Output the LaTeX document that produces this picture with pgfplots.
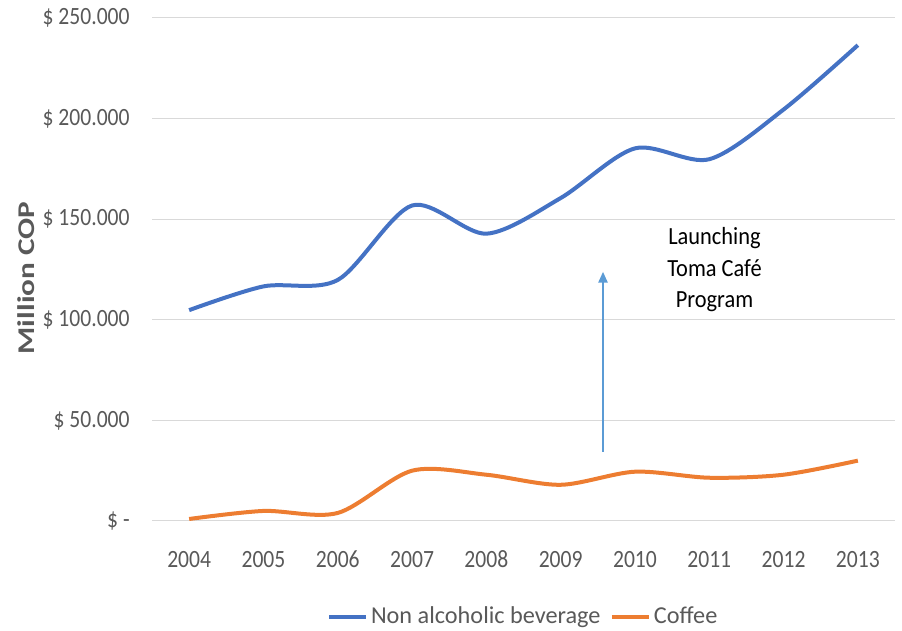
\documentclass[border=0pt]{standalone}
\usepackage{fontspec}
\setmainfont{Carlito}
\usepackage{pgfplots}
\pgfplotsset{compat=1.18}
\usetikzlibrary{arrows.meta}
\definecolor{cblue}{HTML}{4472C4}
\definecolor{corange}{HTML}{ED7D31}
\definecolor{ctext}{HTML}{595959}
\definecolor{cgrid}{HTML}{D9D9D9}
\definecolor{carrow}{HTML}{5B9BD5}
\begin{document}
\begin{tikzpicture}
\useasboundingbox (0,0) rectangle (676.5pt,473.25pt);
\begin{axis}[
  at={(114pt,82.5pt)}, anchor=south west,
  scale only axis, width=557.25pt, height=377.25pt,
  xmin=2003.5, xmax=2013.5, ymin=0, ymax=250000,
  scaled y ticks=false,
  axis line style={draw=none},
  major tick length=0pt,
  xtick={2004,2005,2006,2007,2008,2009,2010,2011,2012,2013},
  xticklabels={2004,2005,2006,2007,2008,2009,2010,2011,2012,2013},
  ytick={0,50000,100000,150000,200000,250000},
  yticklabels={\$ -\hspace{7pt},\$ 50.000,\$ 100.000,\$ 150.000,\$ 200.000,\$ 250.000},
  ymajorgrids, grid style={cgrid, line width=0.75pt},
  tick label style={font=\fontsize{16.2}{19}\selectfont, text=ctext, yscale=1.15},
  xticklabel style={anchor=base, yshift=-30.5pt},
  yticklabel style={anchor=east, xshift=-13.25pt},
  ylabel={Million COP},
  ylabel style={at={(axis description cs:-0.17,0.483)}, anchor=center, font=\fontsize{18}{21}\selectfont\bfseries, text=ctext, xscale=1.3},
  legend style={at={(0.5,-0.19)}, anchor=center, draw=none, legend columns=2,
    font=\fontsize{18.2}{21}\selectfont, text=ctext,
    /tikz/every even column/.append style={column sep=5pt}},
  legend image code/.code={\draw[#1, line width=3pt] (0pt,0pt) -- (28pt,0pt);},
]
\addplot[cblue, line width=3pt, smooth, tension=0.5] coordinates {
 (2004,104800) (2005,116600) (2006,119800) (2007,156800) (2008,142800)
 (2009,160500) (2010,185200) (2011,179800) (2012,204500) (2013,236500)};
\addlegendentry{Non alcoholic beverage}
\addplot[corange, line width=3pt, smooth, tension=0.5] coordinates {
 (2004,1000) (2005,5000) (2006,4000) (2007,25000) (2008,23000)
 (2009,18000) (2010,24500) (2011,21500) (2012,23000) (2013,30000)};
\addlegendentry{Coffee}
\draw[carrow, line width=1pt, -{Triangle[length=8pt,width=7pt]}] (axis cs:2009.57,34300) -- (axis cs:2009.57,123800);
\node[align=center, font=\fontsize{16.8}{21.4}\selectfont, text=black, yscale=1.1] at (axis cs:2011.07,124800) {Launching\\Toma Café\\Program};
\end{axis}
\end{tikzpicture}
\end{document}
